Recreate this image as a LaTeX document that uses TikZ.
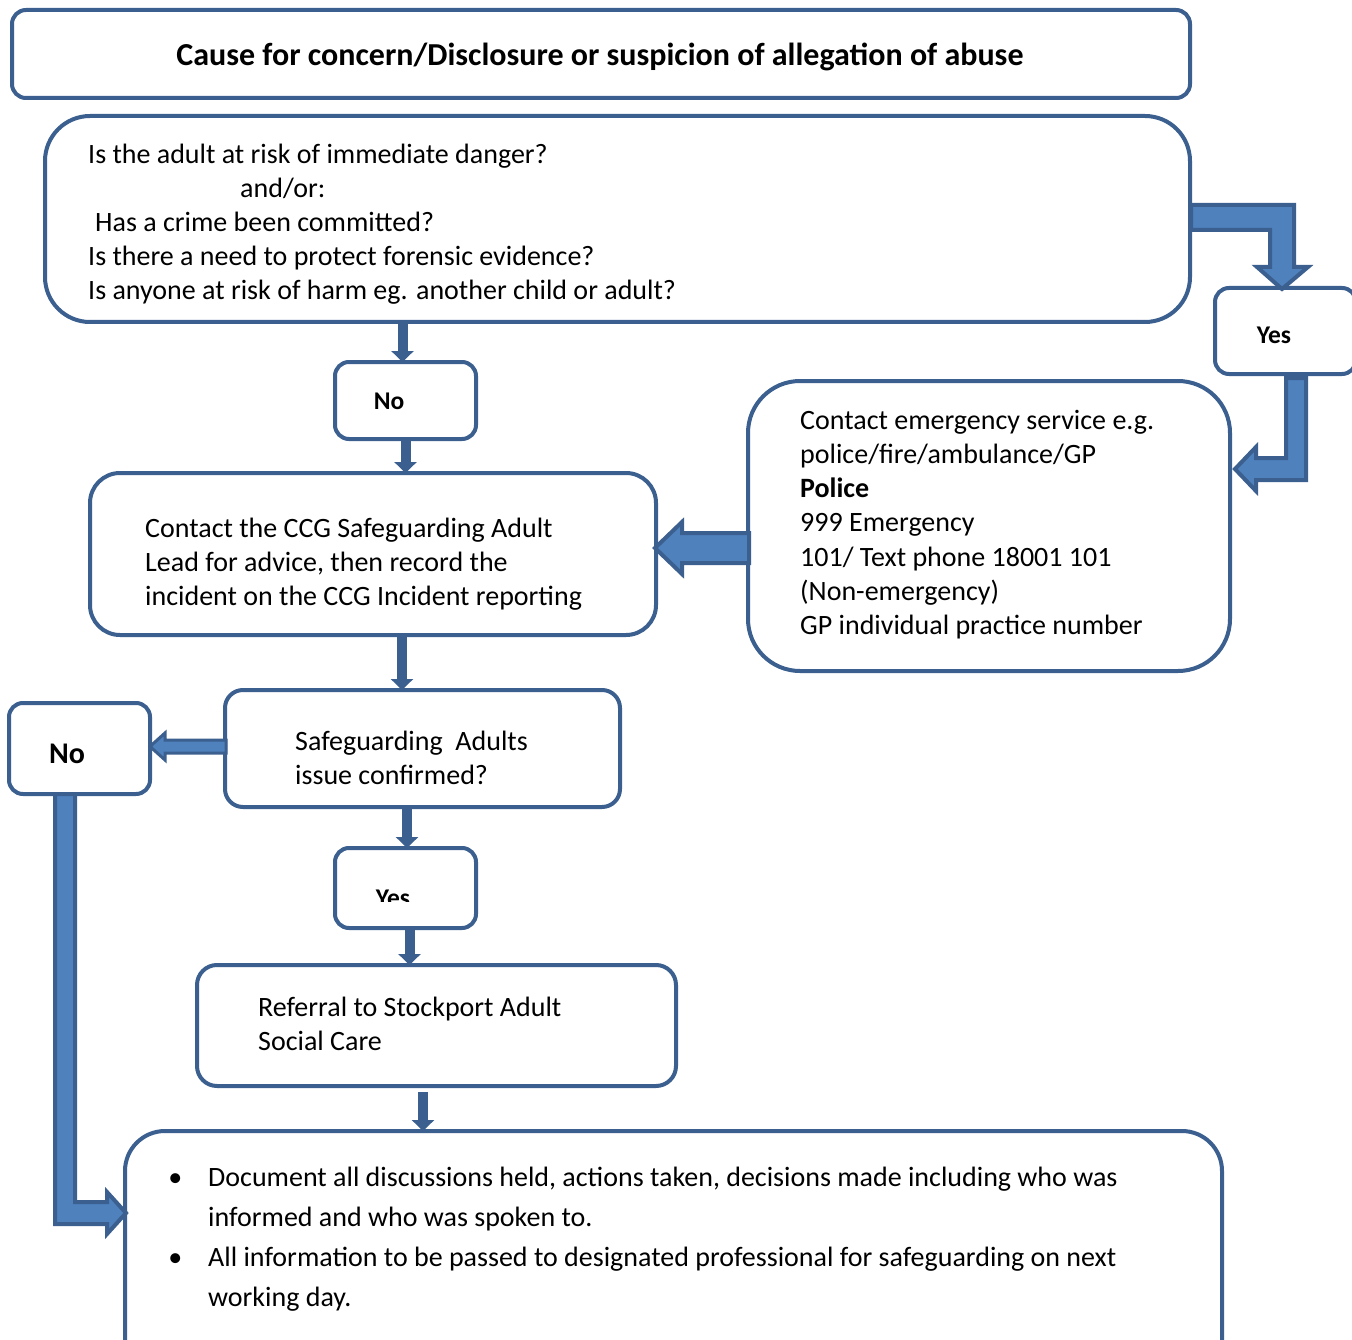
\documentclass[tikz,border=0pt]{standalone}
\usepackage{fontspec}
\setmainfont{Carlito}
\usetikzlibrary{arrows.meta,calc}
\definecolor{bdr}{RGB}{59,95,142}
\definecolor{afill}{RGB}{79,129,189}
\begin{document}
\begin{tikzpicture}[x=1pt,y=-1pt,
  box/.style={draw=bdr, line width=4pt, fill=white, inner sep=0pt, outer sep=0pt},
  txt/.style={font=\fontsize{28}{34}\selectfont, inner sep=0pt, align=left, anchor=base west},
  lbl/.style={font=\fontsize{25.5}{30}\selectfont\bfseries, inner sep=0pt, anchor=base},
  thinarrow/.style={draw=bdr, line width=10pt, -{Triangle[width=22pt,length=11pt]}},
  blockarrow/.style={draw=bdr, fill=afill, line width=4pt, line join=miter},
]
\clip (0,0) rectangle (1352,1340);
% boxes
\node[box, minimum width=1178pt, minimum height=88pt, rounded corners=14pt] (title) at (601,54) {};
\node[box, minimum width=1145pt, minimum height=206pt, rounded corners=45pt] (q) at (617.5,219) {};
\node[box, minimum width=141pt, minimum height=77pt, rounded corners=14pt] (no1) at (405.5,400.5) {};
\node[box, minimum width=141pt, minimum height=86pt, rounded corners=14pt] (yes1) at (1285.5,331) {};
\node[box, minimum width=482pt, minimum height=290pt, rounded corners=52pt] (emg) at (989,526) {};
\node[box, minimum width=566pt, minimum height=162pt, rounded corners=30pt] (ccg) at (373,554) {};
\node[box, minimum width=395pt, minimum height=117pt, rounded corners=18pt] (sg) at (422.5,748.5) {};
\node[box, minimum width=141pt, minimum height=91pt, rounded corners=14pt] (no2) at (79.5,748.5) {};
\node[box, minimum width=141pt, minimum height=80pt, rounded corners=14pt] (yes2) at (405.5,888) {};
\node[box, minimum width=479pt, minimum height=121pt, rounded corners=20pt] (ref) at (436.5,1025.5) {};
\node[box, minimum width=1097pt, minimum height=250pt, rounded corners=40pt] (doc) at (673.5,1256) {};
% thin arrows
\draw[thinarrow] ([xshift=-3pt]no1.north |- q.south) -- ([xshift=-3pt]no1.north);
\draw[thinarrow] (no1.south) -- (no1.south |- ccg.north);
\draw[thinarrow] ([xshift=29pt]ccg.south) -- ([xshift=29pt]ccg.south |- sg.north);
\draw[thinarrow] ([xshift=1.5pt]yes2.north |- sg.south) -- ([xshift=1.5pt]yes2.north);
\draw[thinarrow] ([xshift=4pt]yes2.south) -- ([xshift=4pt]yes2.south |- ref.north);
\draw[thinarrow] ([xshift=-13.5pt,yshift=-6pt]ref.south) -- ([xshift=-13.5pt]ref.south |- doc.north);
% block arrows
\draw[blockarrow, shift={(q.east)}] (1,-14) -- (104,-14) -- (104,48) -- (118,48) -- (92,70) -- (67,48) -- (80,48) -- (80,11) -- (1,11) -- cycle;
\draw[blockarrow, shift={(yes1.south)}] (0.5,4) -- (20.5,4) -- (20.5,106) -- (-29.5,106) -- (-29.5,117) -- (-50.5,95) -- (-29.5,73) -- (-29.5,84) -- (0.5,84) -- cycle;
\draw[blockarrow, shift={(emg.west)}] (1,7) -- (-66,7) -- (-66,-4) -- (-93,22) -- (-66,48) -- (-66,37) -- (1,37) -- cycle;
\draw[blockarrow, line width=3pt, shift={(sg.west)}] (1,-8.5) -- (-60,-8.5) -- (-60,-15.5) -- (-75,-2) -- (-60,11.5) -- (-60,4.5) -- (1,4.5) -- cycle;
\draw[blockarrow, shift={(no2.south)}] (-24.5,0) -- (-4.5,0) -- (-4.5,408) -- (27.5,408) -- (27.5,398) -- (46.5,419) -- (27.5,440) -- (27.5,430) -- (-24.5,430) -- cycle;
% texts (base anchor of a multi-line node = baseline of its last line)
\node[font=\fontsize{32}{38}\selectfont\bfseries, inner sep=0pt, anchor=base] (titlet) at (600,66) {Cause for concern/Disclosure or suspicion of allegation of abuse};
\node[txt] (qt) at (88,300) {Is the adult at risk of immediate danger?\\\hspace*{152pt}and/or:\\\hspace*{7pt}Has a crime been committed?\\Is there a need to protect forensic evidence?\\Is anyone at risk of harm eg. another child or adult?};
\node[lbl] (no1t) at (389,409) {No};
\node[lbl] (yes1t) at (1274,344) {Yes};
\node[txt, font=\fontsize{28}{34.3}\selectfont] (emgt) at (800,634.8) {Contact emergency service e.g.\\police/fire/ambulance/GP\\\textbf{Police}\\999 Emergency\\101/ Text phone 18001 101\\(Non-emergency)\\GP individual practice number};
\node[txt] (ccgt) at (145,605) {Contact the CCG Safeguarding Adult\\Lead for advice, then record the\\incident on the CCG Incident reporting};
\node[txt] (sgt) at (295,784) {Safeguarding\ \ Adults\\issue confirmed?};
\node[lbl, font=\fontsize{30}{36}\selectfont\bfseries] (no2t) at (67,763) {No};
\begin{scope}
\clip (335,848) rectangle (476,901);
\node[lbl] (yes2t) at (393,906) {Yes};
\end{scope}
\node[txt] (reft) at (258,1050) {Referral to Stockport Adult\\Social Care};
\node[txt, font=\fontsize{28}{40}\selectfont] (doct) at (208,1306) {\llap{\textbullet\hspace{26pt}}Document all discussions held, actions taken, decisions made including who was\\informed and who was spoken to.\\\llap{\textbullet\hspace{26pt}}All information to be passed to designated professional for safeguarding on next\\working day.};
\end{tikzpicture}
\end{document}
